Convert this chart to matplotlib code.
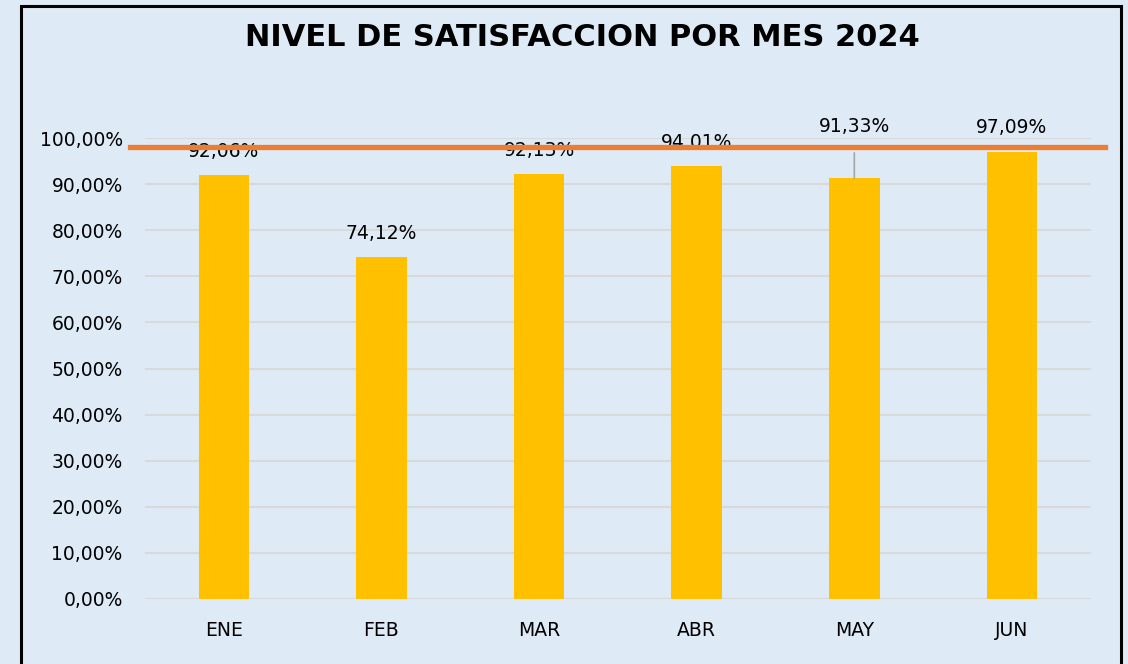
import numpy as np
import matplotlib.pyplot as plt
from matplotlib.patches import Rectangle

meses = ['ENE', 'FEB', 'MAR', 'ABR', 'MAY', 'JUN']
satisfaccion = [92.06, 74.12, 92.13, 94.01, 91.33, 97.09]
meta = 98.0
yticks = list(range(0, 101, 10))

bg = '#DEEAF6'

fig = plt.figure(figsize=(11.28, 6.64), dpi=100, facecolor=bg)
ax = fig.add_axes([0.1285, 0.098, 0.8385, 0.694])
ax.set_facecolor(bg)

x = np.arange(len(meses))
ax.bar(x, satisfaccion, width=0.32, color='#FFC000', zorder=2)

# meta line, spans a bit beyond the plot area
ax.axhline(meta, xmin=-0.016, xmax=1.015, color='#ED7D31', lw=3.8, zorder=4, clip_on=False)

def fmt(v):
    return ('%.2f%%' % v).replace('.', ',')

for i, v in enumerate(satisfaccion):
    if meses[i] == 'MAY':
        # label moved up with a leader line
        ax.annotate(fmt(v), xy=(i, v), xytext=(0, 37), textcoords='offset points',
                    ha='center', va='center', fontsize=13.5, color='black', zorder=3,
                    arrowprops=dict(arrowstyle='-', color='#A6A6A6', lw=1.2,
                                    shrinkA=10, shrinkB=0))
    else:
        ax.annotate(fmt(v), xy=(i, v), xytext=(0, 17), textcoords='offset points',
                    ha='center', va='center', fontsize=13.5, color='black', zorder=3)

ax.set_xlim(-0.5, len(meses) - 0.5)
ax.set_ylim(0, 100)
ax.set_yticks(yticks)
ax.set_yticklabels([fmt(t) for t in yticks])
ax.set_xticks(x)
ax.set_xticklabels(meses)
ax.tick_params(axis='y', length=0, pad=16, labelsize=13.5, labelcolor='black')
ax.tick_params(axis='x', length=0, pad=16, labelsize=13.5, labelcolor='black')
ax.yaxis.grid(True, color='#D9D9D9', lw=1.5, zorder=0)
ax.set_axisbelow(True)
for s in ax.spines.values():
    s.set_visible(False)

fig.text(0.516, 0.943, 'NIVEL DE SATISFACCION POR MES 2024', ha='center', va='center',
         fontsize=22, fontweight='bold', color='black')

fig.patches.append(Rectangle((21 / 1128, -0.05), 1100 / 1128, 1 - 6 / 664 + 0.05,
                             transform=fig.transFigure, fill=False, ec='black', lw=2.2))

fig.savefig('out.png', dpi=100, facecolor=bg)
